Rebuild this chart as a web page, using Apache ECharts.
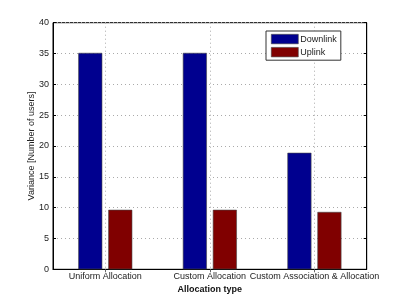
<!DOCTYPE html>
<html><head><meta charset="utf-8">
<script src="https://cdn.jsdelivr.net/npm/echarts@6/dist/echarts.min.js"></script>
<style>html,body{margin:0;padding:0;background:#fff}#c{width:405px;height:304px}</style>
</head><body><div id="c"></div>
<script>
const categories = ['Uniform Allocation', 'Custom Allocation', 'Custom Association & Allocation'];
const downlink = [35.1, 35.1, 18.9];
const uplink = [9.65, 9.65, 9.3];
const yTicks = [0, 5, 10, 15, 20, 25, 30, 35, 40];

const font = 'Liberation Sans, Arial, sans-serif';
// helper axis: 7 half-slots so that odd indices fall on category centers
const halfSlots = ['0', '1', '2', '3', '4', '5', '6'];
const chart = echarts.init(document.getElementById('c'), null, {renderer: 'canvas'});
const gridLine = {color: '#aaa', type: [1, 3], width: 1};
chart.setOption({
  animation: false,
  backgroundColor: '#fff',
  textStyle: {fontFamily: font},
  grid: {left: 53, right: 38.3, top: 22.7, bottom: 34.7, show: true, borderColor: '#000', borderWidth: 1, backgroundColor: '#fff'},
  legend: {
    orient: 'vertical', left: 266, top: 31, icon: 'rect',
    itemWidth: 27, itemHeight: 9.5, itemGap: 3,
    padding: [3, 4, 3, 5],
    borderColor: '#333', borderWidth: 1, backgroundColor: '#fff',
    textStyle: {fontSize: 9, color: '#222', fontFamily: font, padding: [0, 0, 0, -3]},
    data: [{name: 'Downlink', itemStyle: {borderColor: '#444', borderWidth: 0.6}}, {name: 'Uplink', itemStyle: {borderColor: '#444', borderWidth: 0.6}}]
  },
  xAxis: [{
    type: 'category', data: categories, position: 'bottom',
    name: 'Allocation type', nameLocation: 'middle', nameGap: 15.5, nameMoveOverlap: false,
    nameTextStyle: {fontSize: 9, fontWeight: 'bold', color: '#111', fontFamily: font},
    axisLine: {onZero: false, lineStyle: {color: '#000', width: 1}},
    axisTick: {show: false},
    axisLabel: {fontSize: 9, color: '#222', margin: 3, interval: 0, fontFamily: font},
    splitLine: {show: false}
  }, {
    type: 'category', data: halfSlots, boundaryGap: false, position: 'top',
    axisLine: {show: false}, axisLabel: {show: false},
    axisTick: {show: true, inside: true, length: 3, interval: (i) => i % 2 === 1, lineStyle: {color: '#666'}},
    splitLine: {show: true, interval: (i) => i % 2 === 1, lineStyle: gridLine}
  }],
  yAxis: [{
    type: 'value', min: 0, max: 40, interval: 5,
    name: 'Variance [Number of users]', nameLocation: 'middle', nameGap: 17, nameMoveOverlap: false,
    nameTextStyle: {fontSize: 9, color: '#222', fontFamily: font},
    axisLine: {show: true, onZero: false, lineStyle: {color: '#000'}},
    axisTick: {show: true, inside: true, length: 3, lineStyle: {color: '#000'}},
    axisLabel: {fontSize: 9, color: '#222', margin: 4, fontFamily: font,
      formatter: v => yTicks.includes(v) ? String(v) : ''},
    splitLine: {show: true, lineStyle: gridLine}
  }, {
    type: 'value', min: 0, max: 40, interval: 5, position: 'right',
    axisLine: {show: true, onZero: false, lineStyle: {color: '#000'}},
    axisTick: {show: true, inside: true, length: 3, lineStyle: {color: '#000'}},
    axisLabel: {show: false}, splitLine: {show: false}
  }],
  series: [{
    name: 'Downlink', type: 'bar', data: downlink, barWidth: 24, barGap: '25%',
    xAxisIndex: 0, yAxisIndex: 0,
    itemStyle: {color: '#00008F', borderColor: '#444', borderWidth: 0.6}
  }, {
    name: 'Uplink', type: 'bar', data: uplink, barWidth: 24, barGap: '25%',
    xAxisIndex: 0, yAxisIndex: 0,
    itemStyle: {color: '#800000', borderColor: '#444', borderWidth: 0.6}
  }]
});
</script></body></html>
